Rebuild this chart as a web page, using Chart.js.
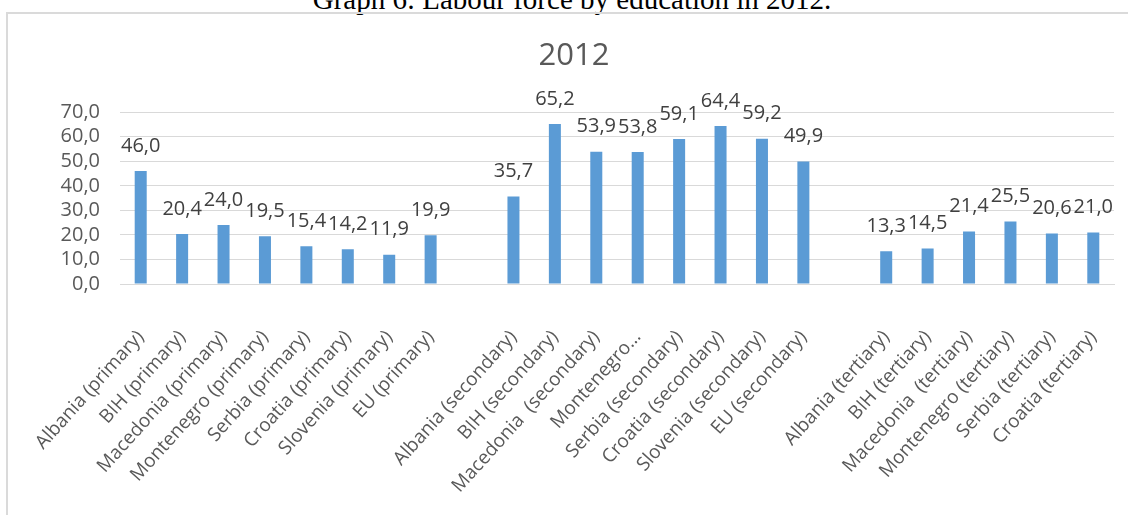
<!DOCTYPE html>
<html>
<head>
<meta charset="utf-8">
<script src="https://cdn.jsdelivr.net/npm/chart.js@4"></script>
<style>
  html, body { margin: 0; padding: 0; background: #ffffff; }
  body { width: 1128px; height: 515px; position: relative; overflow: hidden; }
  #caption {
    position: absolute; left: 0; width: 1144px; top: -15px;
    font-family: "Liberation Serif", serif; font-size: 29px; line-height: 29px;
    text-align: center; color: #000000; white-space: nowrap;
  }
  #frame {
    position: absolute; left: 6px; top: 12px; width: 1200px; height: 600px;
    border: 2px solid #dadada; box-sizing: border-box;
  }
  #wrap { position: absolute; left: 0; top: 0; width: 1128px; height: 515px; }
</style>
</head>
<body>
<div id="caption">Graph 6: Labour force by education in 2012.</div>
<div id="frame"></div>
<div id="wrap"><canvas id="chart" width="1128" height="515"></canvas></div>
<script>
// --- data ---
const chartTitle = '2012';

const primaryLabels = ['Albania (primary)', 'BIH (primary)', 'Macedonia (primary)', 'Montenegro (primary)',
  'Serbia (primary)', 'Croatia (primary)', 'Slovenia (primary)', 'EU (primary)'];
const primaryValues = [46.0, 20.4, 24.0, 19.5, 15.4, 14.2, 11.9, 19.9];

const secondaryLabels = ['Albania (secondary)', 'BIH (secondary)', 'Macedonia  (secondary)', 'Montenegro\u2026',
  'Serbia (secondary)', 'Croatia (secondary)', 'Slovenia (secondary)', 'EU (secondary)'];
const secondaryValues = [35.7, 65.2, 53.9, 53.8, 59.1, 64.4, 59.2, 49.9];

const tertiaryLabels = ['Albania (tertiary)', 'BIH (tertiary)', 'Macedonia  (tertiary)', 'Montenegro (tertiary)',
  'Serbia (tertiary)', 'Croatia (tertiary)'];
const tertiaryValues = [13.3, 14.5, 21.4, 25.5, 20.6, 21.0];

const yTicks = [0, 10, 20, 30, 40, 50, 60, 70];

// an empty slot between the groups, like in the original sheet
const labels = [...primaryLabels, '', ...secondaryLabels, '', ...tertiaryLabels];
const values = [...primaryValues, null, ...secondaryValues, null, ...tertiaryValues];

const fmt = v => v.toFixed(1).replace('.', ',');

const FONT = '"Open Sans", sans-serif';
const GREY = '#595959';

// value labels above the bars
const valueLabels = {
  id: 'valueLabels',
  afterDatasetsDraw(chart) {
    const ctx = chart.ctx;
    const meta = chart.getDatasetMeta(0);
    ctx.save();
    ctx.font = '20px ' + FONT;
    ctx.fillStyle = '#404040';
    ctx.textAlign = 'center';
    ctx.textBaseline = 'middle';
    meta.data.forEach((bar, i) => {
      const v = chart.data.datasets[0].data[i];
      if (v === null) return;
      ctx.fillText(fmt(v), bar.x, bar.y - 25);
    });
    ctx.restore();
  }
};

new Chart(document.getElementById('chart'), {
  type: 'bar',
  data: {
    labels: labels,
    datasets: [{
      data: values,
      backgroundColor: '#5b9bd5',
      categoryPercentage: 1,
      barPercentage: 0.29
    }]
  },
  options: {
    responsive: false,
    animation: false,
    layout: { padding: { left: 34, right: 14, top: 13, bottom: 0 } },
    plugins: {
      legend: { display: false },
      tooltip: { enabled: false },
      title: {
        display: true,
        text: chartTitle,
        color: GREY,
        font: { family: FONT, size: 31, weight: 'normal', lineHeight: 1.2 },
        padding: { top: 25, bottom: 37 }
      }
    },
    scales: {
      x: {
        grid: { display: false },
        border: { display: true, color: '#d9d9d9', width: 1 },
        afterFit: s => { s.height = 231; s.paddingRight = 0; s.paddingLeft = 0; },
        ticks: {
          autoSkip: false,
          minRotation: 48,
          maxRotation: 48,
          padding: 34,
          color: GREY,
          font: { family: FONT, size: 19 }
        }
      },
      y: {
        min: 0,
        max: 70,
        afterFit: s => { s.width = 86; },
        afterBuildTicks: s => { s.ticks = yTicks.map(v => ({ value: v })); },
        border: { display: false },
        grid: { color: '#d9d9d9', lineWidth: 1, drawTicks: false },
        ticks: {
          autoSkip: false,
          padding: 20,
          color: GREY,
          font: { family: FONT, size: 20 },
          callback: v => fmt(v)
        }
      }
    }
  },
  plugins: [valueLabels]
});
</script>
</body>
</html>
